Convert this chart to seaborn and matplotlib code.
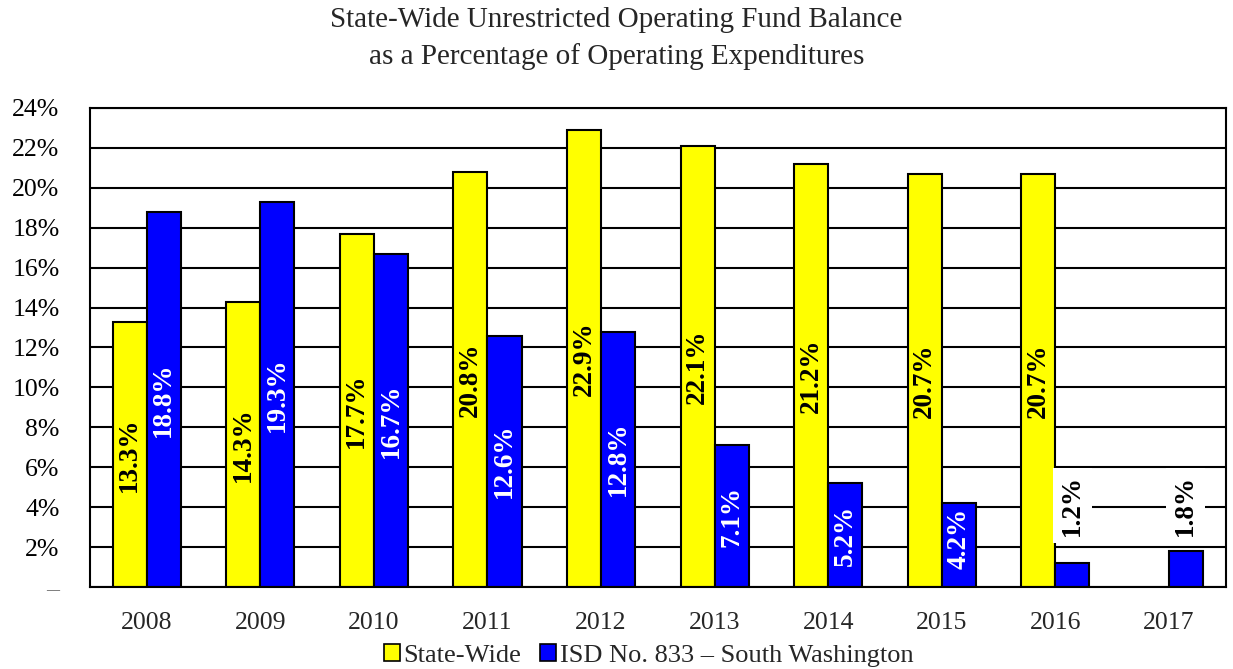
import numpy as np
import pandas as pd
import matplotlib
matplotlib.use("Agg")
import matplotlib.pyplot as plt
import seaborn as sns
from matplotlib.ticker import FixedLocator, MultipleLocator, FuncFormatter
from matplotlib.patches import Patch

years = ["2008", "2009", "2010", "2011", "2012", "2013", "2014", "2015", "2016", "2017"]
state_wide = [13.3, 14.3, 17.7, 20.8, 22.9, 22.1, 21.2, 20.7, 20.7, np.nan]
isd_833 = [18.8, 19.3, 16.7, 12.6, 12.8, 7.1, 5.2, 4.2, 1.2, 1.8]
series_names = ["State-Wide", "ISD No. 833 \u2013 South Washington"]
title_lines = ["State-Wide Unrestricted Operating Fund Balance",
               "as a Percentage of Operating Expenditures"]

sns.set_theme(style="white")
plt.rcParams["font.family"] = ["Liberation Serif", "DejaVu Serif"]

df = pd.DataFrame({
    "year": years * 2,
    "series": [series_names[0]] * len(years) + [series_names[1]] * len(years),
    "value": state_wide + isd_833,
})

fig = plt.figure(figsize=(12.33, 6.69), dpi=100)
ax = fig.add_axes([0.073, 0.1226, 0.921, 0.7160])

colors = ["#FFFF00", "#0000FF"]
sns.barplot(data=df, x="year", y="value", hue="series", hue_order=series_names,
            order=years, palette=colors, width=0.6, dodge=True,
            edgecolor="black", linewidth=1.5, saturation=1, ax=ax, legend=False)

ax.set_ylim(0, 24)
ax.set_xlim(-0.5, len(years) - 0.5)
ax.yaxis.set_major_locator(MultipleLocator(2))
ax.yaxis.set_major_formatter(FuncFormatter(lambda v, p: "\u2013" if v == 0 else f"{v:.0f}%"))
ax.grid(axis="y", color="black", linewidth=1.5)
ax.set_axisbelow(True)
for s in ax.spines.values():
    s.set_color("black")
    s.set_linewidth(1.5)
ax.set_xlabel("")
ax.set_ylabel("")
ax.tick_params(axis="y", length=0, labelsize=18.5, pad=22, labelcolor="black")
ax.tick_params(axis="x", which="major", length=0, labelsize=18.5, pad=18)
ax.xaxis.set_minor_locator(FixedLocator(np.arange(-0.5, len(years), 1.0)))
ax.tick_params(axis="x", which="minor", length=10, width=1.5, color="black", direction="out")
fig.canvas.draw()
for lbl in ax.get_yticklabels():
    if lbl.get_text() == "\u2013":
        lbl.set_color("#808080")

# value labels
for i, container in enumerate(ax.containers):
    for bar, val in zip(container, [state_wide, isd_833][i]):
        if val is None or np.isnan(val):
            continue
        x = bar.get_x() + bar.get_width() / 2
        txtcolor = "black" if i == 0 else "white"
        kw = {}
        if val < 4:
            y = 4.1
            txtcolor = "black"
            kw["bbox"] = dict(facecolor="white", edgecolor="none", pad=5)
        else:
            y = max(val / 2, 2.45)
        ax.text(x, y, f"{val:.1f}%", rotation=90, ha="center", va="center",
                fontsize=19.5, fontweight="bold", color=txtcolor, **kw)

fig.text(0.5, 0.970, title_lines[0], ha="center", va="center", fontsize=21)
fig.text(0.5, 0.915, title_lines[1], ha="center", va="center", fontsize=21)

handles = [Patch(facecolor=c, edgecolor="black", linewidth=1.2) for c in colors]
fig.legend(handles, series_names, loc="center", bbox_to_anchor=(0.526, 0.02),
           ncol=2, frameon=False, fontsize=19, handlelength=0.6, handleheight=0.6,
           handletextpad=0.15, columnspacing=0.7, borderpad=0)

fig.savefig("out.png", dpi=100)
